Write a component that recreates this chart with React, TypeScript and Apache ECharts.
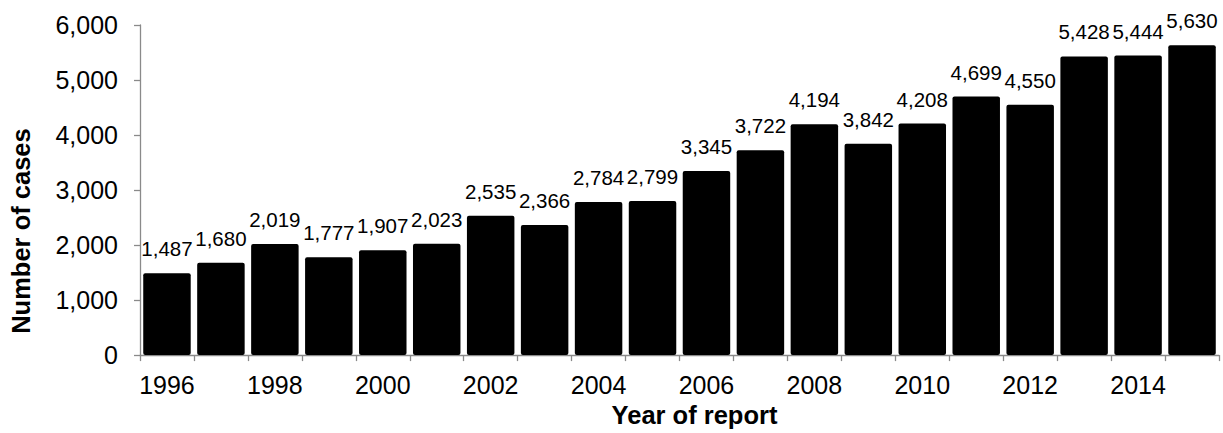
import React, { useEffect, useRef } from "react";
import * as echarts from "echarts";

const years = ["1996","1997","1998","1999","2000","2001","2002","2003","2004","2005","2006","2007","2008","2009","2010","2011","2012","2013","2014","2015"];
const cases = [1487,1680,2019,1777,1907,2023,2535,2366,2784,2799,3345,3722,4194,3842,4208,4699,4550,5428,5444,5630];

const fmt = (v: number) => Number(v).toLocaleString("en-US");
const FONT = "Liberation Sans, Arial, sans-serif";
const AXIS_GRAY = "#8a8a8a";

export default function App() {
  const ref = useRef<HTMLDivElement>(null);
  useEffect(() => {
    if (!ref.current) return;
    const chart = echarts.init(ref.current, undefined, { renderer: "svg" });
    chart.setOption({
      animation: false,
      backgroundColor: "#ffffff",
      textStyle: { fontFamily: FONT },
      grid: { left: 140, right: 4, top: 25, bottom: 76, containLabel: false },
      xAxis: {
        type: "category",
        data: years,
        boundaryGap: true,
        name: "Year of report",
        nameLocation: "middle",
        nameGap: 45,
        nameTextStyle: { fontFamily: FONT, fontSize: 25.5, fontWeight: "bold", color: "#000", padding: [0, 0, 0, 30] },
        axisLine: { lineStyle: { color: AXIS_GRAY, width: 1.3 } },
        axisTick: { show: true, interval: 0, length: 6, lineStyle: { color: AXIS_GRAY, width: 1.3 } },
        axisLabel: { interval: 1, margin: 17, fontFamily: FONT, fontSize: 25, color: "#000" },
        splitLine: { show: false },
      },
      yAxis: {
        type: "value",
        min: 0,
        max: 6000,
        interval: 1000,
        name: "Number of cases",
        nameLocation: "middle",
        nameGap: 106,
        nameTextStyle: { fontFamily: FONT, fontSize: 25.5, fontWeight: "bold", color: "#000", padding: [0, 82, 0, 0] },
        axisLine: { show: true, lineStyle: { color: AXIS_GRAY, width: 1.3 } },
        axisTick: { show: true, length: 6, lineStyle: { color: AXIS_GRAY, width: 1.3 } },
        axisLabel: { margin: 22, fontFamily: FONT, fontSize: 25, color: "#000", formatter: (v: number) => fmt(v) },
        splitLine: { show: false },
      },
      series: [
        {
          type: "bar",
          data: cases,
          barCategoryGap: "12%",
          itemStyle: { color: "#000000", borderRadius: 2 },
          label: {
            show: true,
            position: "top",
            distance: 14,
            fontFamily: FONT,
            fontSize: 20.5,
            color: "#000",
            formatter: (p: any) => fmt(p.value),
          },
        },
      ],
    });
    return () => chart.dispose();
  }, []);
  return <div ref={ref} style={{ position: "fixed", left: 0, top: 0, width: 1223, height: 433 }} />;
}
